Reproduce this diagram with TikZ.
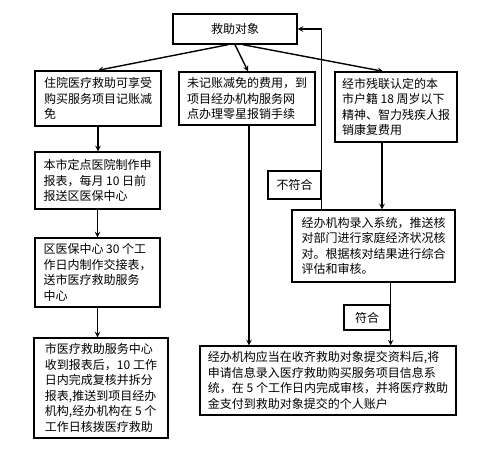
\documentclass[tikz,border=0pt]{standalone}
\usepackage{fontspec}
\setmainfont{Noto Sans CJK SC}
\usetikzlibrary{arrows}

\begin{document}
\begin{tikzpicture}[x=1pt, y=-1pt,
		box/.style = {draw, line width=1.4pt, align=left, inner sep=3pt,
			font=\fontsize{12}{15.5}\selectfont},
		tag/.style = {draw, line width=1.4pt, font=\fontsize{12}{14}\selectfont},
		arr/.style = {-stealth, line width=1.4pt}]
		\useasboundingbox (0,0) rectangle (500,471);
		
		\node [box, minimum width=124, minimum height=30] (obj) at (235,29) {救助对象};
		
		\node [box, minimum width=126, minimum height=55] (hosp) at (98,98.5)
			{住院医疗救助可享受\\购买服务项目记账减\\免};
		\node [box, minimum width=136, minimum height=53] (refund) at (247,98.5)
			{未记账减免的费用，到\\项目经办机构服务网\\点办理零星报销手续};
		\node [box, minimum width=122, minimum height=70] (disab) at (396,107)
			{经市残联认定的本\\市户籍 18 周岁以下\\精神、智力残疾人报\\销康复费用};
		
		\node [box, minimum width=125, minimum height=57] (report) at (97.5,180.5)
			{本市定点医院制作申\\报表，每月 10 日前\\报送区医保中心};
		\node [box, minimum width=125, minimum height=69] (district) at (97.5,272.5)
			{区医保中心 30 个工\\作日内制作交接表，\\送市医疗救助服务\\中心};
		\node [box, minimum width=134, minimum height=100] (city) at (101,388)
			{市医疗救助服务中心\\收到报表后，10 工作\\日内完成复核并拆分\\报表,推送到项目经办\\机构,经办机构在 5 个\\工作日核拨医疗救助};
		
		\node [box, minimum width=163, minimum height=72] (check) at (373.5,246)
			{经办机构录入系统，推送核\\对部门进行家庭经济状况核\\对。根据核对结果进行综合\\评估和审核。};
		\node [box, minimum width=256, minimum height=69, inner sep=2pt] (pay) at (328,380.5)
			{经办机构应当在收齐救助对象提交资料后,将\\申请信息录入医疗救助购买服务项目信息系\\统，在 5 个工作日内完成审核，并将医疗救助\\金支付到救助对象提交的个人账户};
		
		\node [tag, minimum width=53, minimum height=28] (no) at (294.5,185) {不符合};
		\node [tag, minimum width=46, minimum height=25] (yes) at (367,317.5) {符合};
		
		% from the top box
		\draw [arr] ([xshift=-7]obj.south) -- (hosp.north);
		\draw [arr] (obj.south) -- ([xshift=1]refund.north);
		\draw [arr] ([xshift=8]obj.south) -- ([xshift=-13]disab.north);
		
		% left column
		\draw [arr] (hosp.south) -- (hosp.south |- report.north);
		\draw [arr] (report.south) -- (report.south |- district.north);
		\draw [arr] (district.south) -- (district.south |- city.north);
		
		% middle and right
		\draw [arr] ([xshift=2]refund.south) -- ([xshift=2]refund.south |- pay.north);
		\draw [arr] ([xshift=-14]disab.south) -- ([xshift=-14]disab.south |- check.north);
		\draw [arr] (check.south -| yes.east) -- (pay.north -| yes.east);
		\draw [arr] (check.north -| no.east) |- (obj.east);
	\end{tikzpicture}
\end{document}
